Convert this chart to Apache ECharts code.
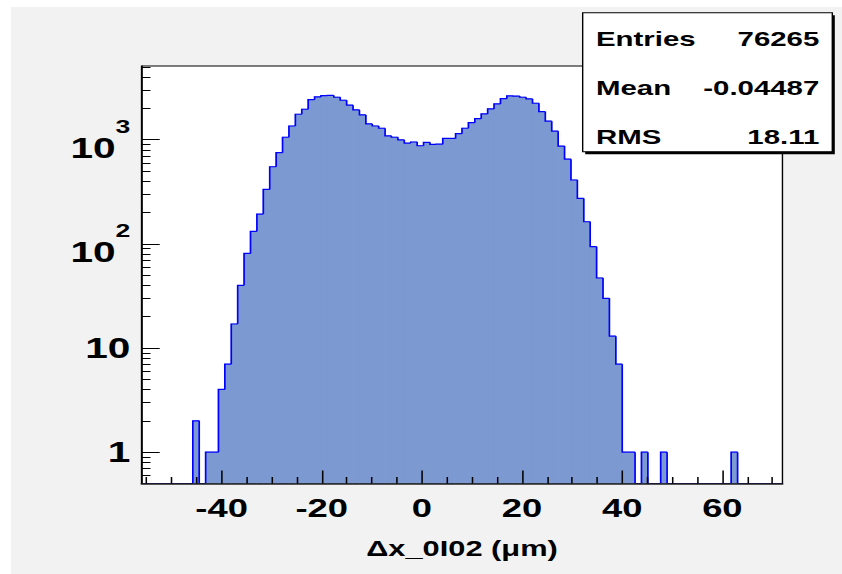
<!DOCTYPE html>
<html>
<head>
<meta charset="utf-8">
<title>Δx_0I02</title>
<script src="https://cdn.jsdelivr.net/npm/echarts@6/dist/echarts.min.js"></script>
<style>
  html, body { margin: 0; padding: 0; background: #ffffff; width: 842px; height: 574px; overflow: hidden; }
  #pad { position: absolute; left: 11px; top: 7px; right: 0; bottom: 0; background: #f2f2f2; }
  /* the plot is laid out on a narrower page and widened, like the stretched ROOT canvas */
  #chart { position: absolute; left: 0; top: 0; width: 601.43px; height: 574px;
           transform: scaleX(1.4); transform-origin: 0 0; }
</style>
</head>
<body>
<div id="pad"></div>
<div id="chart"></div>
<script>
// Histogram binning: 100 bins from -56 to 72 (um)
const binLow = -56;
const binWidth = 1.28;

// Entries per bin
const counts = [
  0, 0, 0, 0, 0, 0, 0, 0, 2, 0,
  1, 1, 4, 7, 17, 40, 81, 132, 193, 333,
  550, 750, 1055, 1354, 1755, 1960, 2425, 2575, 2652, 2660,
  2557, 2392, 2143, 1930, 1728, 1416, 1354, 1288, 1086, 1055,
  994, 929, 950, 875, 944, 903, 905, 1031, 1028, 1142,
  1288, 1456, 1592, 1766, 1973, 2205, 2479, 2631, 2625, 2557,
  2461, 2239, 1859, 1507, 1207, 869, 650, 410, 273, 163,
  94, 47, 30, 13, 7, 1, 1, 0, 1, 0,
  0, 1, 0, 0, 0, 0, 0, 0, 0, 0,
  0, 0, 1, 0, 0, 0, 0, 0, 0, 0
];

// Statistics box
const statNames = ['Entries', 'Mean', 'RMS'];
const statValues = ['76265', '-0.04487', '18.11'];

// Axis ticks
const xMajorTicks = [-40, -20, 0, 20, 40, 60];
const xMinorTicks = [-55, -50, -45, -35, -30, -25, -15, -10, -5, 5, 10, 15, 25, 30, 35, 45, 50, 55, 65, 70];
const yMajorTicks = [1, 10, 100, 1000];
const yMinorTicks = [0.6, 0.7, 0.8, 0.9, 2, 3, 4, 5, 6, 7, 8, 9,
  20, 30, 40, 50, 60, 70, 80, 90, 200, 300, 400, 500, 600, 700, 800, 900,
  2000, 3000, 4000, 5000];

const X_MIN = -56, X_MAX = 72;
const Y_MIN = 0.5, Y_MAX = 5100;

// [low edge, high edge, count, previous bin count, is last bin]
const binData = counts.map((c, i) => [
  binLow + i * binWidth,
  binLow + (i + 1) * binWidth,
  c,
  i > 0 ? counts[i - 1] : 0,
  i === counts.length - 1 ? 1 : 0
]);

const FILL = 'rgb(125,153,209)';
const LINE = '#0000ff';
const FONT = "'Liberation Sans', Arial, Helvetica, sans-serif";

function binFill(params, api) {
  const c = api.value(2);
  if (c <= 0) return null;
  const a = api.coord([api.value(0), c]);
  const b = api.coord([api.value(1), Y_MIN]);
  return {
    type: 'rect',
    shape: { x: a[0], y: a[1], width: b[0] - a[0], height: b[1] - a[1] },
    // a thin stroke in the fill colour closes the seams between neighbouring bins
    style: { fill: FILL, stroke: FILL, lineWidth: 0.8 }
  };
}

function binOutline(params, api) {
  const x0 = api.value(0), x1 = api.value(1);
  const lvl = Math.max(api.value(2), Y_MIN);
  const prev = Math.max(api.value(3), Y_MIN);
  const pts = [api.coord([x0, prev]), api.coord([x0, lvl]), api.coord([x1, lvl])];
  if (api.value(4) === 1) pts.push(api.coord([x1, Y_MIN]));
  return {
    type: 'polyline',
    shape: { points: pts },
    style: { fill: null, stroke: LINE, lineWidth: 1.2 }
  };
}

function yLabel(v) {
  const e = Math.round(Math.log10(v));
  if (e === 0) return '1';
  if (e === 1) return '10';
  return '{b|10}{s|' + e + '}';
}

const statGraphics = [
  { type: 'rect', z: 100, shape: { x: 418.0, y: 15.2, width: 178.3, height: 139 },
    style: { fill: '#000' } },
  { type: 'rect', z: 101, shape: { x: 416.2, y: 12.7, width: 178.3, height: 139 },
    style: { fill: '#fff', stroke: '#000', lineWidth: 1 } }
];
const rowY = [39, 88, 137];
statNames.forEach((name, i) => {
  statGraphics.push({ type: 'text', z: 102, x: 425.7, y: rowY[i],
    style: { text: name, fill: '#000', fontFamily: FONT, fontWeight: 'bold', fontSize: 21,
             align: 'left', verticalAlign: 'middle' } });
  statGraphics.push({ type: 'text', z: 102, x: 585.2, y: rowY[i],
    style: { text: statValues[i], fill: '#000', fontFamily: FONT, fontWeight: 'bold', fontSize: 21,
             align: 'right', verticalAlign: 'middle' } });
});

const chart = echarts.init(document.getElementById('chart'), null, { renderer: 'svg' });
chart.setOption({
  animation: false,
  backgroundColor: 'transparent',
  grid: {
    left: 101.1, right: 42.1, top: 66, bottom: 90.5,
    show: true, backgroundColor: '#ffffff', borderColor: '#000', borderWidth: 1,
    containLabel: false, outerBoundsMode: 'none'
  },
  xAxis: [
    {
      type: 'value', min: X_MIN, max: X_MAX, position: 'bottom', z: 10,
      axisLine: { show: true, onZero: false, lineStyle: { color: '#222', width: 1.6 } },
      axisTick: { show: true, inside: true, length: 13, customValues: xMajorTicks,
                  lineStyle: { color: '#000', width: 1.1 } },
      axisLabel: { show: true, customValues: xMajorTicks, margin: 11, color: '#000',
                   fontFamily: FONT, fontWeight: 'bold', fontSize: 26 },
      splitLine: { show: false },
      name: 'Δx_0I02 (μm)', nameLocation: 'middle', nameGap: 54,
      nameTextStyle: { color: '#000', fontFamily: FONT, fontWeight: 'bold', fontSize: 22 }
    },
    {
      type: 'value', min: X_MIN, max: X_MAX, position: 'bottom', z: 10,
      axisLine: { show: false, onZero: false },
      axisTick: { show: true, inside: true, length: 6.5, customValues: xMinorTicks,
                  lineStyle: { color: '#000', width: 1.1 } },
      axisLabel: { show: false },
      splitLine: { show: false }
    }
  ],
  yAxis: [
    {
      type: 'log', logBase: 10, min: Y_MIN, max: Y_MAX, position: 'left', z: 10,
      axisLine: { show: true, onZero: false, lineStyle: { color: '#000', width: 1 } },
      axisTick: { show: true, inside: true, length: 13, customValues: yMajorTicks,
                  lineStyle: { color: '#000', width: 1 } },
      axisLabel: {
        show: true, customValues: yMajorTicks, margin: 8, color: '#000',
        fontFamily: FONT, fontWeight: 'bold', fontSize: 29,
        formatter: yLabel,
        rich: {
          b: { fontFamily: FONT, fontWeight: 'bold', fontSize: 29, color: '#000',
               padding: [16, 0, 0, 0], verticalAlign: 'bottom' },
          s: { fontFamily: FONT, fontWeight: 'bold', fontSize: 19, color: '#000',
               verticalAlign: 'top', padding: [0, 0, 0, 0] }
        }
      },
      splitLine: { show: false }
    },
    {
      type: 'log', logBase: 10, min: Y_MIN, max: Y_MAX, position: 'left', z: 10,
      axisLine: { show: false, onZero: false },
      axisTick: { show: true, inside: true, length: 6.4, customValues: yMinorTicks,
                  lineStyle: { color: '#000', width: 1 } },
      axisLabel: { show: false },
      splitLine: { show: false }
    }
  ],
  series: [
    {
      type: 'custom', name: 'fill', xAxisIndex: 0, yAxisIndex: 0,
      renderItem: binFill, data: binData, encode: { x: [0, 1], y: 2 },
      clip: true, z: 2, silent: true
    },
    {
      type: 'custom', name: 'outline', xAxisIndex: 0, yAxisIndex: 0,
      renderItem: binOutline, data: binData, encode: { x: [0, 1], y: 2 },
      clip: true, z: 3, silent: true
    }
  ],
  graphic: statGraphics
});
</script>
</body>
</html>
